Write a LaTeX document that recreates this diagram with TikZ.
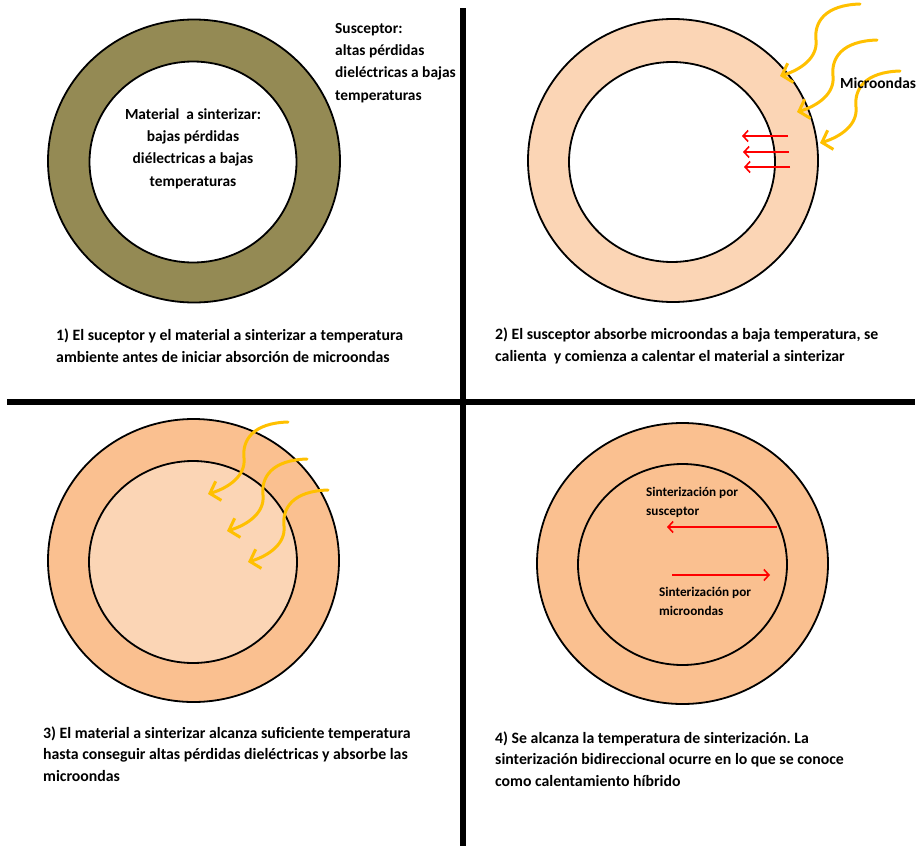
\documentclass[tikz,border=0pt]{standalone}
\usepackage{fontspec}
\setmainfont{Carlito}
\usetikzlibrary{arrows.meta,shapes.geometric}
\frenchspacing

\definecolor{olivering}{HTML}{948A54}
\definecolor{peachlight}{HTML}{FBD5B5}
\definecolor{peachwarm}{HTML}{FAC090}
\definecolor{wavegold}{HTML}{FFC000}
\definecolor{heatred}{HTML}{FF0000}

\tikzset{
  ring/.style={ellipse, draw=black, line width=1.8pt, inner sep=0pt},
  divider/.style={line width=5.5pt, black},
  caption/.style={anchor=west, align=left, inner sep=0pt,
    font=\bfseries\fontsize{15.8}{21.8}\selectfont},
  label/.style={inner sep=0pt, font=\bfseries\fontsize{15.4}{22.3}\selectfont},
  smalllabel/.style={anchor=west, align=left, inner sep=0pt,
    font=\bfseries\fontsize{13.2}{19}\selectfont},
  wavearrow/.style={wavegold, line width=3pt, line cap=round,
    -{Straight Barb[length=9pt,width=20pt,line width=3pt]}},
  heatarrow/.style={heatred, line width=1.6pt,
    -{Straight Barb[length=5pt,width=11pt,line width=1.6pt]}},
  mwave/.pic={\draw[wavearrow] (0,0) .. controls (-35,1) and (-46,18) .. (-44,36)
      .. controls (-42,54) and (-60,66) .. (-80,72);}
}

\begin{document}
\begin{tikzpicture}[x=1pt,y=-1pt]
\useasboundingbox (0,0) rectangle (921,846);

% quadrant dividers
\draw[divider] (7,402) -- (915,402);
\draw[divider] (463,8) -- (463,846);

% 1) both at room temperature
\node[ring, fill=olivering, minimum width=292pt, minimum height=283pt] (outA) at (194,161) {};
\node[ring, fill=white, minimum width=207pt, minimum height=201pt] (inA) at (193,162) {};
\node[label, align=center] (matA) at (193,148.5)
  {Material\ \ a sinterizar:\\bajas pérdidas\\diélectricas a bajas\\temperaturas};
\node[label, anchor=west, align=left] (susA) at (335,63)
  {Susceptor:\\altas pérdidas\\dieléctricas a bajas\\temperaturas};
\node[caption] (capA) at (56,345.5)
  {1) El suceptor y el material a sinterizar a temperatura\\ambiente antes de iniciar absorción de microondas};

% 2) susceptor absorbs microwaves
\node[ring, fill=peachlight, minimum width=290pt, minimum height=283pt] (outB) at (673,160.5) {};
\node[ring, fill=white, minimum width=206pt, minimum height=200pt] (inB) at (672,162) {};
\coordinate (hb1s) at (788,136); \coordinate (hb1e) at (742,136);
\coordinate (hb2s) at (789,152); \coordinate (hb2e) at (743,152);
\coordinate (hb3s) at (790,167); \coordinate (hb3e) at (744,167);
\draw[heatarrow] (hb1s) -- (hb1e);
\draw[heatarrow] (hb2s) -- (hb2e);
\draw[heatarrow] (hb3s) -- (hb3e);
\pic at (860,4) {mwave};
\pic at (877,40) {mwave};
\pic at (900,71) {mwave};
\node[label, anchor=west] (mwB) at (840,83) {Microondas};
\node[caption] (capB) at (495,346)
  {2) El susceptor absorbe microondas a baja temperatura, se\\calienta\ \ y comienza a calentar el material a sinterizar};

% 3) material absorbs microwaves
\node[ring, fill=peachwarm, minimum width=291pt, minimum height=283pt] (outC) at (193.5,560.5) {};
\node[ring, fill=peachlight, minimum width=208pt, minimum height=202pt] (inC) at (193,562) {};
\pic at (288,422) {mwave};
\pic at (307,459) {mwave};
\pic at (328,490) {mwave};
\node[caption] (capC) at (43,754)
  {3) El material a sinterizar alcanza suficiente temperatura\\hasta conseguir altas pérdidas dieléctricas y absorbe las\\microondas};

% 4) hybrid heating
\node[ring, fill=peachwarm, minimum width=291pt, minimum height=281pt] (outD) at (682.5,563.5) {};
\node[ring, fill=peachwarm, minimum width=209pt, minimum height=201pt] (inD) at (682.5,564.5) {};
\coordinate (hd1s) at (777,527); \coordinate (hd1e) at (667,527);
\coordinate (hd2s) at (672,575); \coordinate (hd2e) at (770,575);
\draw[heatarrow] (hd1s) -- (hd1e);
\draw[heatarrow] (hd2s) -- (hd2e);
\node[smalllabel] (sinS) at (646,502.5) {Sinterización por\\susceptor};
\node[smalllabel] (sinM) at (659,601.5) {Sinterización por\\microondas};
\node[caption] (capD) at (495,759)
  {4) Se alcanza la temperatura de sinterización. La\\sinterización bidireccional ocurre en lo que se conoce\\como calentamiento híbrido};

\end{tikzpicture}
\end{document}
